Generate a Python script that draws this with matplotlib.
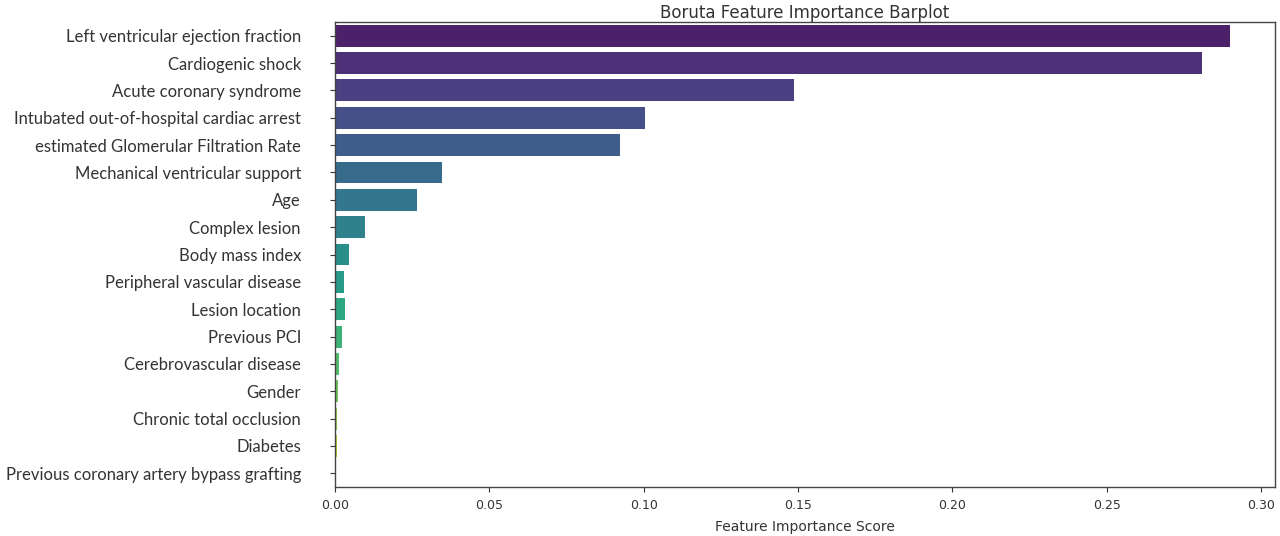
import matplotlib
matplotlib.use("Agg")
import matplotlib.pyplot as plt
import numpy as np

features = [
    "Left ventricular ejection fraction",
    "Cardiogenic shock",
    "Acute coronary syndrome",
    "Intubated out-of-hospital cardiac arrest",
    "estimated Glomerular Filtration Rate",
    "Mechanical ventricular support",
    "Age",
    "Complex lesion",
    "Body mass index",
    "Peripheral vascular disease",
    "Lesion location",
    "Previous PCI",
    "Cerebrovascular disease",
    "Gender",
    "Chronic total occlusion",
    "Diabetes",
    "Previous coronary artery bypass grafting",
]
importance = [0.290, 0.281, 0.1486, 0.1004, 0.0923, 0.0347, 0.0266, 0.0098,
              0.0044, 0.0029, 0.0032, 0.0022, 0.0014, 0.0009, 0.0006, 0.0008, 0.0001]
xticks = [0.00, 0.05, 0.10, 0.15, 0.20, 0.25, 0.30]

n = len(features)
cmap = plt.get_cmap("viridis")
gray = np.array([0.5, 0.5, 0.5])
colors = [tuple(0.9 * np.array(cmap(v)[:3]) + 0.1 * gray)
          for v in np.linspace(0, 1, n + 2)[1:-1]]

fig = plt.figure(figsize=(12.8, 5.36), dpi=100)
ax = fig.add_axes([335 / 1280, 1 - 487 / 536, (1275 - 335) / 1280, (487 - 22) / 536])

y = np.arange(n)
ax.barh(y, importance, height=0.8, color=colors)
ax.set_ylim(n - 0.5, -0.5)
ax.set_xlim(0, max(importance) * 1.05)
ax.set_yticks(y)
ax.set_yticklabels(features, fontfamily="Lato", fontsize=12.0, color="#333333")
ax.set_xticks(xticks)
ax.set_xticklabels([f"{t:.2f}" for t in xticks], fontsize=9, color="#333333")
ax.set_xlabel("Feature Importance Score", fontsize=10, color="#333333", labelpad=6)
ax.set_title("Boruta Feature Importance Barplot", fontsize=12, color="#333333", pad=3)
for s in ax.spines.values():
    s.set_color("#444444")
    s.set_linewidth(1.0)
ax.tick_params(axis="both", color="#333333", length=3.5)
ax.tick_params(axis="y", pad=21)
ax.tick_params(axis="x", pad=5)

fig.savefig("out.png", dpi=100)
